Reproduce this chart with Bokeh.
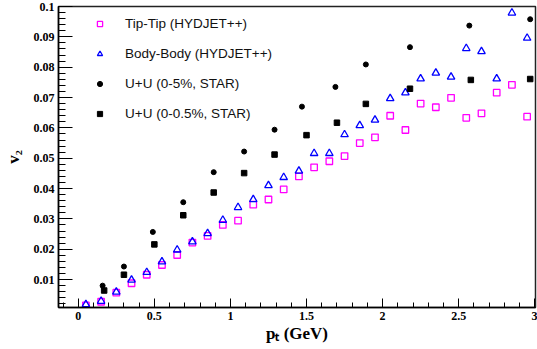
from bokeh.plotting import figure
from bokeh.models import (Range1d, SingleIntervalTicker, NumeralTickFormatter,
                          ColumnDataSource)
from bokeh.embed import file_html
from bokeh.resources import INLINE

# ---------------- data ----------------
pt_hydjet = [0.05, 0.15, 0.25, 0.35, 0.45, 0.55, 0.65, 0.75, 0.85, 0.95,
             1.05, 1.15, 1.25, 1.35, 1.45, 1.55, 1.65, 1.75, 1.85, 1.95,
             2.05, 2.15, 2.25, 2.35, 2.45, 2.55, 2.65, 2.75, 2.85, 2.95]
v2_tiptip = [0.0015, 0.0027, 0.0057, 0.0088, 0.0116, 0.0148, 0.0181, 0.0222, 0.0244, 0.0280,
             0.0294, 0.0347, 0.0364, 0.0397, 0.0440, 0.0470, 0.0490, 0.0507, 0.0550, 0.0569,
             0.0640, 0.0593, 0.0680, 0.0668, 0.0699, 0.0633, 0.0648, 0.0716, 0.0742, 0.0637]
v2_bodybody = [0.0018, 0.0029, 0.0059, 0.0099, 0.0124, 0.0159, 0.0198, 0.0225, 0.0252, 0.0296,
               0.0338, 0.0364, 0.0410, 0.0437, 0.0458, 0.0516, 0.0516, 0.0578, 0.0608, 0.0626,
               0.0697, 0.0716, 0.0762, 0.0781, 0.0768, 0.0862, 0.0852, 0.0762, 0.0979, 0.0896]

pt_star5 = [0.16, 0.30, 0.49, 0.69, 0.89, 1.09, 1.29, 1.47, 1.69, 1.89, 2.18, 2.57, 2.97]
v2_star5 = [0.0080, 0.0143, 0.0257, 0.0355, 0.0454, 0.0522, 0.0594, 0.0670, 0.0735, 0.0809,
            0.0866, 0.0937, 0.0958]
pt_star05 = [0.17, 0.30, 0.50, 0.69, 0.89, 1.09, 1.29, 1.50, 1.70, 1.89, 2.18, 2.58, 2.97]
v2_star05 = [0.0064, 0.0116, 0.0216, 0.0312, 0.0387, 0.0451, 0.0512, 0.0576, 0.0617, 0.0679,
             0.0729, 0.0758, 0.0761]

series_labels = ["Tip-Tip (HYDJET++)", "Body-Body (HYDJET++)",
                 "U+U (0-5%, STAR)", "U+U (0-0.5%, STAR)"]
x_title = "p\u209c (GeV)"
y_title = "v\u2082"

X0, X1 = -0.13, 3.005
Y0, Y1 = 0.0008, 0.1

# ---------------- figure ----------------
W, H = 537, 349
ML, MR, MT, MB = 56, 2, 6, 42
p = figure(width=W, height=H, output_backend="svg", toolbar_location=None,
           x_range=Range1d(X0, X1), y_range=Range1d(Y0, Y1),
           min_border_left=ML, min_border_right=MR,
           min_border_top=MT, min_border_bottom=MB)
p.background_fill_color = "white"
p.border_fill_color = "white"
p.outline_line_color = "#222222"
p.outline_line_width = 1.5
p.xgrid.visible = False
p.ygrid.visible = False

serif = "Liberation Serif"
for ax in (p.xaxis[0], p.yaxis[0]):
    ax.major_label_text_font = serif
    ax.major_label_text_font_style = "bold"
    ax.major_label_text_font_size = "12px"
    ax.major_label_text_color = "black"
    ax.axis_line_color = "black"
    ax.axis_line_width = 1.5
    ax.major_tick_line_color = "black"
    ax.minor_tick_line_color = "black"
    ax.major_tick_out = 0
    ax.minor_tick_out = 0
    ax.major_label_standoff = 4
    ax.axis_label_text_font = serif
    ax.axis_label_text_font_style = "bold"
    ax.axis_label_text_font_size = "17px"
    ax.axis_label_text_color = "black"

p.xaxis[0].ticker = SingleIntervalTicker(interval=0.5, num_minor_ticks=5)
p.xaxis[0].formatter = NumeralTickFormatter(format="0.[0]")
p.xaxis[0].major_tick_in = 9
p.xaxis[0].minor_tick_in = 5
p.xaxis[0].axis_label = x_title
p.xaxis[0].axis_label_standoff = 1

p.yaxis[0].ticker = SingleIntervalTicker(interval=0.01, num_minor_ticks=5)
p.yaxis[0].formatter = NumeralTickFormatter(format="0.[00]")
p.yaxis[0].major_tick_in = 14
p.yaxis[0].minor_tick_in = 7
p.yaxis[0].axis_label = y_title
p.yaxis[0].axis_label_standoff = 8

# ---------------- marks ----------------
src_h = ColumnDataSource(dict(x=pt_hydjet, tt=v2_tiptip, bb=v2_bodybody))
src_s5 = ColumnDataSource(dict(x=pt_star5, y=v2_star5))
src_s05 = ColumnDataSource(dict(x=pt_star05, y=v2_star05))

p.scatter("x", "tt", source=src_h, marker="square", size=6.5, fill_color=None,
          line_color="#ff00ff", line_width=1.3, legend_label=series_labels[0])
p.scatter("x", "bb", source=src_h, marker="triangle", size=7.5, fill_color=None,
          line_color="#0000ff", line_width=1.3, legend_label=series_labels[1])
p.scatter("x", "y", source=src_s5, marker="circle", size=5, fill_color="black",
          line_color="black", legend_label=series_labels[2])
p.scatter("x", "y", source=src_s05, marker="square", size=5.5, fill_color="black",
          line_color="black", legend_label=series_labels[3])

lg = p.legend[0]
lg.border_line_color = None
lg.background_fill_alpha = 0
lg.label_text_font = "Liberation Sans"
lg.label_text_font_size = "13.5px"
lg.label_text_color = "#111111"
lg.glyph_width = 13
lg.glyph_height = 13
lg.label_height = 19
lg.spacing = 11
lg.padding = 4
lg.margin = 0
lg.label_standoff = 19
lg.location = (35, 184)

open("out.html", "w").write(file_html(p, INLINE))
